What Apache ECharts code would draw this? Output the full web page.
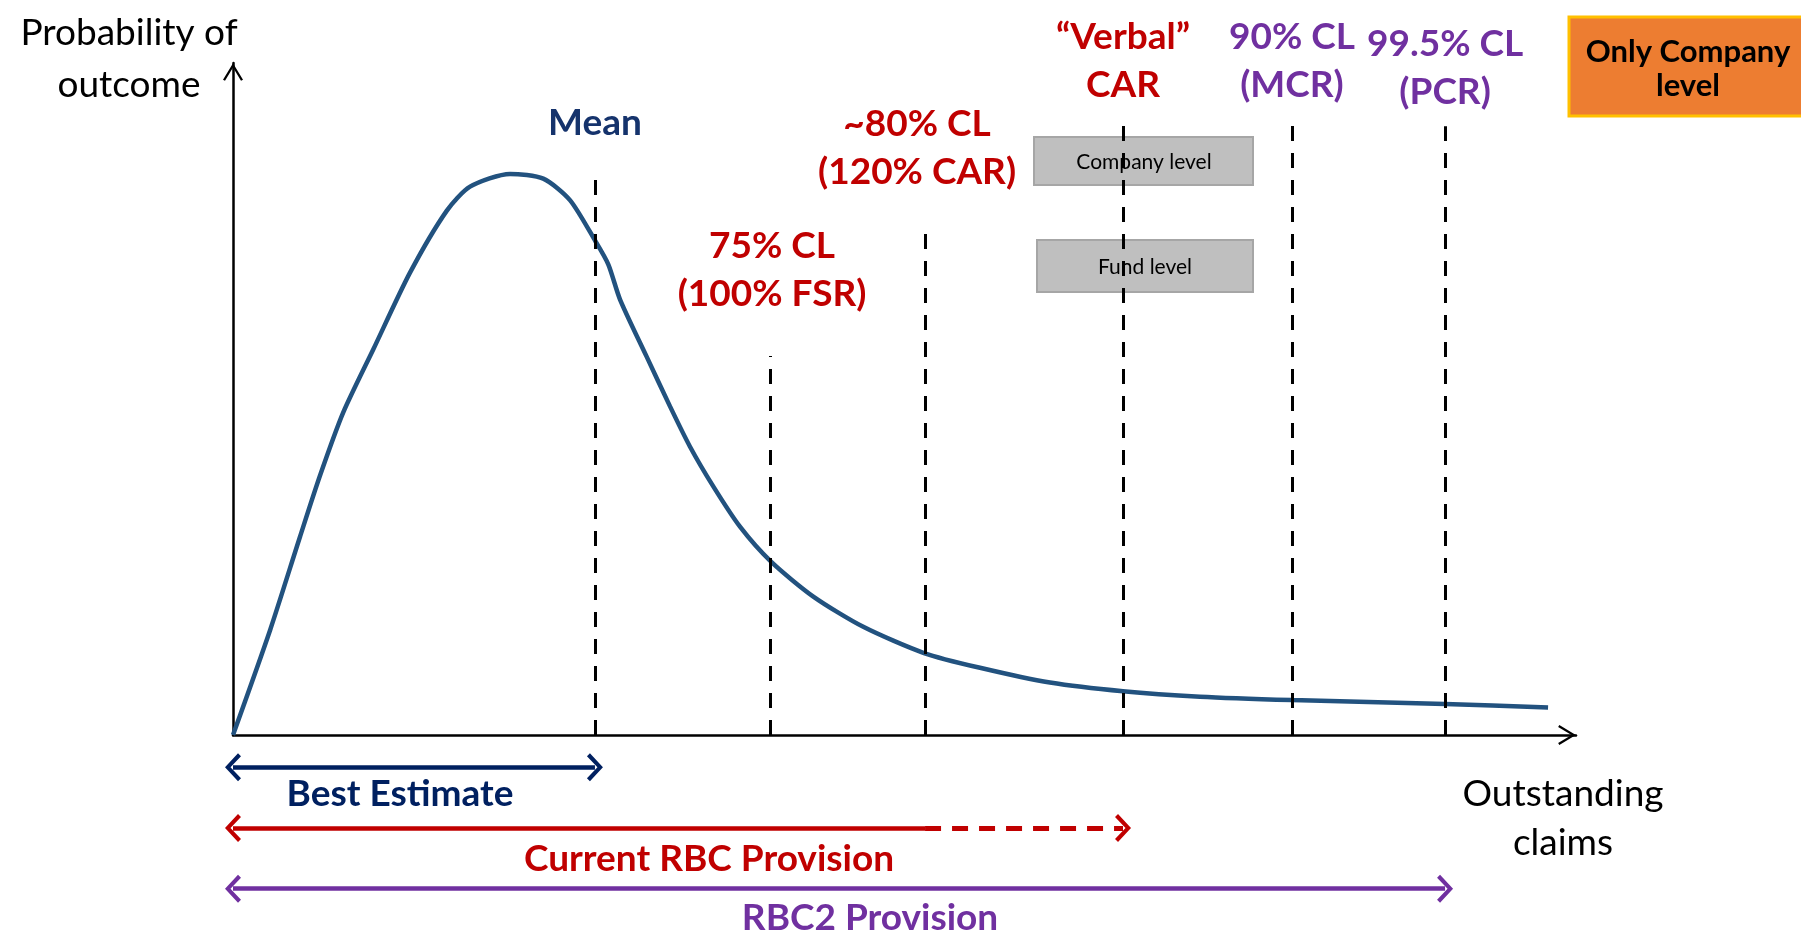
<!DOCTYPE html>
<html>
<head>
<meta charset="utf-8">
<script src="https://cdn.jsdelivr.net/npm/echarts@6/dist/echarts.min.js"></script>
<style>
html,body{margin:0;padding:0;background:#ffffff;}
#chart{width:1801px;height:933px;}
</style>
</head>
<body>
<div id="chart"></div>
<script>
// ---------- data ----------
const curveX = [0, 2.76, 4.99, 6.48, 8.21, 10.45, 13.18, 15.91, 17.65, 20.63, 23.1, 25.09, 27.01, 27.95, 28.82, 30.8, 32.54, 34.03, 35.76, 37.75, 40.06, 43.21, 46.93, 51.45, 55.62, 60.83, 66.27, 72.0, 78.85, 90.25, 97.92];
const curveY = [0, 15.6, 29.5, 38.6, 48.0, 57.4, 68.8, 78.0, 81.6, 83.5, 82.8, 79.6, 73.4, 70.0, 64.8, 56.3, 48.9, 42.9, 37.0, 31.0, 25.8, 20.6, 16.1, 12.2, 10.0, 7.8, 6.5, 5.7, 5.2, 4.6, 4.1];

const levelLabels = ['Mean', '75% CL\n(100% FSR)', '~80% CL\n(120% CAR)', '\u201CVerbal\u201D\nCAR', '90% CL\n(MCR)', '99.5% CL\n(PCR)'];
const levelGroup = ['mean', 'current', 'current', 'current', 'rbc2', 'rbc2'];
const levelX = [26.95, 39.99, 51.53, 66.27, 78.85, 90.25];
const levelTop = [83.2, 56.4, 75.1, 90.9, 91.4, 90.6];

const provisionLabels = ['Best Estimate', 'Current RBC Provision', 'RBC2 Provision'];
const provisionGroup = ['meanArrow', 'current', 'rbc2'];
const provisionFirmEnd = [26.95, 51.53, 90.25];
const provisionEnd = [26.95, 66.27, 90.25];

const boxLabels = ['Company level', 'Fund level'];
const noteLabel = 'Only Company\nlevel';
const yAxisTitle = 'Probability of\noutcome';
const xAxisTitle = 'Outstanding\nclaims';

// ---------- styles / layout ----------
const FONT = 'Lato, "Open Sans", sans-serif';
const COLORS = { mean: '#15336c', meanArrow: '#002060', current: '#c00000', rbc2: '#7030a0' };
const LEVEL_LABEL_GAP = [29, 38, 34, 15, 12, 10];
const LEVEL_LABEL_SHIFT = [0, 2, -8, 0, 0, 0];
const PROV_LABEL_GAP = [6, 10, 8];
const PROV_LABEL_SHIFT = [-14, 31, 31];
const CHEVRON = 'path://M14,0 L28,13 L25,16 L14,5.5 L3,16 L0,13 Z';
const AXIS_CHEVRON = 'path://M10,0 L20,16.5 L18,17.7 L10,4.3 L2,17.7 L0,16.5 Z';

function shiftPad(s) {
  return s >= 0 ? [0, 0, 0, 2 * s] : [0, -2 * s, 0, 0];
}

const levelLines = levelX.map((x, i) => [
  {
    coord: [x, 0],
    label: {
      formatter: levelLabels[i],
      color: COLORS[levelGroup[i]],
      distance: LEVEL_LABEL_GAP[i],
      padding: shiftPad(LEVEL_LABEL_SHIFT[i])
    }
  },
  { coord: [x, levelTop[i]] }
]);

const provLines = [];
provisionLabels.forEach((name, i) => {
  const col = COLORS[provisionGroup[i]];
  const full = provisionFirmEnd[i] >= provisionEnd[i];
  provLines.push([
    { coord: [0, i], symbol: CHEVRON, symbolSize: [28, 16], lineStyle: { color: col, width: 4.5, type: 'solid' }, label: { show: false } },
    { coord: [provisionFirmEnd[i], i], symbol: full ? CHEVRON : 'none', symbolSize: [28, 16] }
  ]);
  if (!full) {
    provLines.push([
      { coord: [provisionFirmEnd[i], i], symbol: 'none', lineStyle: { color: col, width: 5, type: [16, 11] }, label: { show: false } },
      { coord: [provisionEnd[i], i], symbol: CHEVRON, symbolSize: [28, 16] }
    ]);
  }
  // invisible carrier line for the span's caption
  provLines.push([
    { coord: [0, i], symbol: 'none', lineStyle: { color: 'rgba(255,255,255,0)', width: 1, opacity: 1 },
      label: { show: true, formatter: name, color: col, opacity: 1, distance: PROV_LABEL_GAP[i], padding: shiftPad(PROV_LABEL_SHIFT[i]) } },
    { coord: [provisionEnd[i], i], symbol: 'none' }
  ]);
});

const chart = echarts.init(document.getElementById('chart'), null, { renderer: 'canvas' });

const option = {
  animation: false,
  backgroundColor: '#ffffff',
  grid: [
    { left: 233, right: 225, top: 63, bottom: 198, outerBoundsMode: 'none', containLabel: false },
    { left: 233, right: 225, top: 737, bottom: 14, outerBoundsMode: 'none', containLabel: false }
  ],
  xAxis: [
    {
      type: 'value', gridIndex: 0, min: 0, max: 100,
      name: xAxisTitle, nameLocation: 'end', nameGap: -13, nameMoveOverlap: false,
      nameTextStyle: { fontFamily: FONT, fontSize: 37, color: '#000', lineHeight: 49, align: 'center', verticalAlign: 'top', padding: [35, 0, 0, 0] },
      axisLine: { show: true, onZero: false, symbol: ['none', AXIS_CHEVRON], symbolSize: [20, 18], symbolOffset: [0, -9], lineStyle: { color: '#000', width: 2.5 } },
      axisTick: { show: false }, axisLabel: { show: false }, splitLine: { show: false }
    },
    {
      type: 'value', gridIndex: 1, min: 0, max: 100, show: false,
      axisLine: { show: false }, axisTick: { show: false }, axisLabel: { show: false }, splitLine: { show: false }
    }
  ],
  yAxis: [
    {
      type: 'value', gridIndex: 0, min: 0, max: 100,
      name: yAxisTitle, nameLocation: 'end', nameGap: 56, nameMoveOverlap: false,
      nameTextStyle: { fontFamily: FONT, fontSize: 37, color: '#000', lineHeight: 52, align: 'center', verticalAlign: 'top', padding: [0, 208, 0, 0] },
      axisLine: { show: true, onZero: false, symbol: ['none', AXIS_CHEVRON], symbolSize: [20, 18], symbolOffset: [0, -9], lineStyle: { color: '#000', width: 2.5 } },
      axisTick: { show: false }, axisLabel: { show: false }, splitLine: { show: false }
    },
    {
      type: 'category', gridIndex: 1, data: provisionLabels, inverse: true, show: false,
      axisLine: { show: false }, axisTick: { show: false }, axisLabel: { show: false }, splitLine: { show: false }
    }
  ],
  series: [
    {
      name: 'Distribution', type: 'line', xAxisIndex: 0, yAxisIndex: 0,
      data: curveX.map((x, i) => [x, curveY[i]]),
      smooth: 0.25, showSymbol: false, symbol: 'none',
      lineStyle: { color: '#22527f', width: 4.5 },
      z: 2,
      markLine: {
        silent: true, animation: false, symbol: ['none', 'none'],
        lineStyle: { color: '#000', width: 3, type: [15, 12] },
        label: { show: true, position: 'end', fontFamily: FONT, fontSize: 37, fontWeight: 'bold', lineHeight: 48 },
        emphasis: { disabled: true },
        data: levelLines
      }
    },
    {
      name: 'Provisions', type: 'line', xAxisIndex: 1, yAxisIndex: 1,
      data: [],
      markLine: {
        silent: true, animation: false, symbol: ['none', 'none'],
        label: { show: true, position: 'insideMiddleBottom', fontFamily: FONT, fontSize: 37, fontWeight: 'bold', lineHeight: 42 },
        emphasis: { disabled: true },
        data: provLines
      }
    }
  ],
  graphic: [
    { type: 'rect', z: 0, shape: { x: 1569, y: 17, width: 240, height: 99 }, style: { fill: '#ed7d31', stroke: '#ffc000', lineWidth: 3 } },
    { type: 'text', z: 1, x: 1688, y: 69, style: { text: noteLabel, fontFamily: FONT, fontSize: 31, fontWeight: 'bold', fill: '#000', align: 'center', verticalAlign: 'middle', lineHeight: 34 } },
    { type: 'rect', z: 0, shape: { x: 1034, y: 137, width: 219, height: 48 }, style: { fill: '#bfbfbf', stroke: '#a6a6a6', lineWidth: 2 } },
    { type: 'text', z: 1, x: 1144, y: 162, style: { text: boxLabels[0], fontFamily: FONT, fontSize: 21, fill: '#000', align: 'center', verticalAlign: 'middle' } },
    { type: 'rect', z: 0, shape: { x: 1037, y: 240, width: 216, height: 52 }, style: { fill: '#bfbfbf', stroke: '#a6a6a6', lineWidth: 2 } },
    { type: 'text', z: 1, x: 1145, y: 267, style: { text: boxLabels[1], fontFamily: FONT, fontSize: 21, fill: '#000', align: 'center', verticalAlign: 'middle' } }
  ]
};

chart.setOption(option);
</script>
</body>
</html>
